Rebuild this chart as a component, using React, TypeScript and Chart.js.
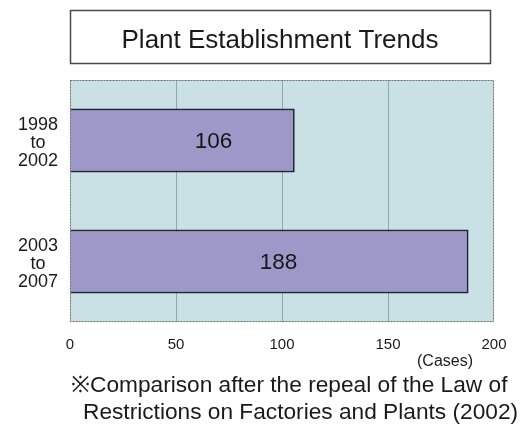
import React, { useEffect, useRef } from "react";
import { Chart, registerables } from "chart.js";

Chart.register(...registerables);

const categories: string[][] = [["1998", "to", "2002"], ["2003", "to", "2007"]];
const values: number[] = [106, 188];
const xTicks: number[] = [0, 50, 100, 150, 200];
const titleText = "Plant Establishment Trends";
const unitText = "(Cases)";
const noteLines: string[] = [
  "※Comparison after the repeal of the Law of",
  "Restrictions on Factories and Plants (2002)",
];

const FONT = "'Liberation Sans', Arial, Helvetica, sans-serif";

const decorPlugin = {
  id: "decor",
  beforeDraw(chart: any) {
    const { ctx, chartArea } = chart;
    const { left, top, right, bottom } = chartArea;
    ctx.save();
    ctx.fillStyle = "#ffffff";
    ctx.fillRect(0, 0, chart.width, chart.height);
    ctx.fillStyle = "#c9e0e5";
    ctx.fillRect(left, top, right - left, bottom - top);
    ctx.restore();
  },
  afterDatasetsDraw(chart: any) {
    const { ctx, chartArea } = chart;
    const { left, top, right, bottom } = chartArea;
    ctx.save();
    // plot border (dotted)
    ctx.strokeStyle = "#6d6f72";
    ctx.lineWidth = 1;
    ctx.setLineDash([2, 1]);
    ctx.strokeRect(left + 0.5, top + 0.5, right - left - 1, bottom - top - 1);
    ctx.setLineDash([]);

    // value labels
    const meta = chart.getDatasetMeta(0);
    ctx.fillStyle = "#161616";
    ctx.font = `22.5px ${FONT}`;
    ctx.textAlign = "center";
    ctx.textBaseline = "middle";
    meta.data.forEach((bar: any, i: number) => {
      const cx = (bar.base + bar.x) / 2 + (i === 0 ? 31 : 9);
      ctx.fillText(String(values[i]), cx, bar.y + 1);
    });

    // title box
    ctx.strokeStyle = "#4a4a4a";
    ctx.lineWidth = 1.5;
    ctx.strokeRect(70.5, 10.5, 420, 53);
    ctx.fillStyle = "#1a1a1a";
    ctx.font = `26px ${FONT}`;
    ctx.textAlign = "center";
    ctx.textBaseline = "middle";
    ctx.fillText(titleText, 280, 41);

    // unit
    ctx.font = `16px ${FONT}`;
    ctx.fillText(unitText, 445, 362);

    // note
    ctx.font = `22.7px ${FONT}`;
    ctx.textAlign = "left";
    ctx.fillText(noteLines[0], 71, 386);
    ctx.fillText(noteLines[1], 83, 413);
    ctx.restore();
  },
};

export default function App() {
  const ref = useRef<HTMLCanvasElement | null>(null);
  useEffect(() => {
    if (!ref.current) return;
    const chart = new Chart(ref.current, {
      type: "bar",
      data: {
        labels: categories,
        datasets: [
          {
            data: values,
            backgroundColor: "#9d98c8",
            borderColor: "#24243a",
            borderWidth: 2,
            borderSkipped: "start",
            categoryPercentage: 1,
            barPercentage: 0.53,
          },
        ],
      },
      options: {
        indexAxis: "y",
        animation: false,
        responsive: true,
        maintainAspectRatio: false,
        layout: { padding: { top: 80, right: 28, left: 0, bottom: 0 } },
        plugins: {
          legend: { display: false },
          tooltip: { enabled: false },
          title: { display: false },
        },
        scales: {
          x: {
            min: 0,
            max: 200,
            afterBuildTicks: (scale: any) => {
              scale.ticks = xTicks.map((v) => ({ value: v }));
            },
            afterFit: (scale: any) => {
              scale.height = 110;
            },
            grid: {
              drawTicks: false,
              color: (c: any) =>
                c.tick && (c.tick.value === 0 || c.tick.value === 200)
                  ? "rgba(0,0,0,0)"
                  : "#8fa8ae",
              lineWidth: 1,
            },
            border: { display: false },
            ticks: {
              padding: 14,
              color: "#1a1a1a",
              font: { family: FONT, size: 15 },
              maxRotation: 0,
            },
          },
          y: {
            afterFit: (scale: any) => {
              scale.width = 70;
            },
            grid: { display: false, drawTicks: false },
            border: { display: false },
            ticks: {
              crossAlign: "center",
              padding: 12,
              labelOffset: 3,
              color: "#1a1a1a",
              font: { family: FONT, size: 18, lineHeight: 1.0 },
            },
          },
        },
      },
      plugins: [decorPlugin],
    });
    return () => chart.destroy();
  }, []);

  return (
    <div style={{ position: "fixed", left: 0, top: 0, width: 522, height: 432, background: "#fff" }}>
      <canvas ref={ref} />
    </div>
  );
}
